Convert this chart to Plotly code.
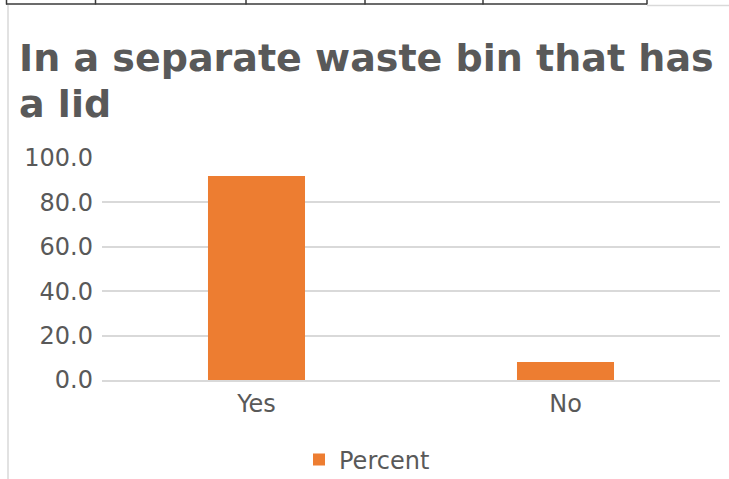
import plotly.graph_objects as go

categories = ["Yes", "No"]
percent = [91.9, 8.1]
series_name = "Percent"
title_lines = ["In a separate waste bin that has", "a lid"]
y_ticks = [0, 20, 40, 60, 80, 100]

W, H = 729, 479
L, R, T, B = 102, 9, 158, 99
PW, PH = W - L - R, H - T - B

def px(x):
    return (x - L) / PW

def py(y):
    return (H - B - y) / PH

TEXT = "#595959"
FONT = "DejaVu Sans"

fig = go.Figure()
fig.add_trace(go.Bar(
    x=categories, y=percent, name=series_name,
    marker=dict(color="#ED7D31", line=dict(width=0)),
    showlegend=True,
))

shapes = []
dark = "#3a3a3a"
shapes.append(dict(type="line", xref="paper", yref="paper",
                   x0=px(6), x1=px(647), y0=py(4), y1=py(4),
                   line=dict(color=dark, width=1.5)))
for vx in [6.5, 95.5, 246, 365, 483, 647]:
    shapes.append(dict(type="line", xref="paper", yref="paper",
                       x0=px(vx), x1=px(vx), y0=py(-1), y1=py(4.5),
                       line=dict(color=dark, width=1.5)))
shapes.append(dict(type="line", xref="paper", yref="paper",
                   x0=px(8), x1=px(8), y0=py(5), y1=py(482),
                   line=dict(color="#d9d9d9", width=1.5)))
shapes.append(dict(type="line", xref="paper", yref="paper",
                   x0=px(647), x1=px(732), y0=py(5.5), y1=py(5.5),
                   line=dict(color="#d9d9d9", width=1.5)))

annotations = []
for i, line in enumerate(title_lines):
    annotations.append(dict(
        text=line, xref="paper", yref="paper",
        x=px(17), y=py(58 + 46 * i), xanchor="left", yanchor="middle",
        showarrow=False, font=dict(family=FONT, size=38, color=TEXT, weight="bold"),
    ))

fig.update_layout(
    width=W, height=H,
    margin=dict(l=L, r=R, t=T, b=B, pad=0, autoexpand=False),
    paper_bgcolor="white", plot_bgcolor="white",
    font=dict(family=FONT, color=TEXT, size=24),
    bargap=0.686,
    showlegend=True,
    legend=dict(orientation="h", x=px(299), xanchor="left",
                yref="container", y=1 - 460 / H, yanchor="middle",
                font=dict(family=FONT, size=24, color=TEXT),
                bgcolor="rgba(0,0,0,0)"),
    xaxis=dict(showgrid=False, showline=True, linecolor="#d9d9d9", linewidth=1.5,
               ticks="", tickfont=dict(size=24, color=TEXT),
               ticklabelstandoff=1, fixedrange=True),
    yaxis=dict(range=[0, 100], tickvals=y_ticks, tickformat=".1f",
               showgrid=True, gridcolor="#d9d9d9", gridwidth=1.5,
               zeroline=False, showline=False, ticks="",
               tickfont=dict(size=24, color=TEXT),
               ticklabelstandoff=8, fixedrange=True),
    shapes=shapes,
    annotations=annotations,
)

fig.write_html("out.html", config={"displayModeBar": False},
               post_script="document.body.style.margin='0';")
